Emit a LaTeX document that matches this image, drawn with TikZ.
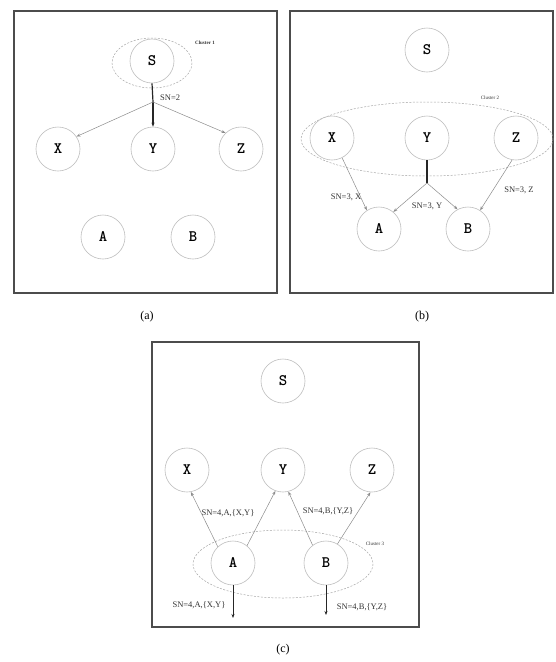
\documentclass[tikz,border=0pt]{standalone}
\usepackage{fontspec}
\setmainfont{Liberation Serif}
\usetikzlibrary{arrows.meta}
\begin{document}
\begin{tikzpicture}[x=1pt,y=-1pt,
  frame/.style={draw=black!70,line width=1.4pt},
  vtx/.style={circle,draw=black!25,line width=0.6pt,minimum size=44pt,inner sep=0pt,font=\fontsize{16}{16}\selectfont\ttfamily\bfseries},
  cluster/.style={draw=black!35,line width=0.5pt,dash pattern=on 2pt off 1.5pt},
  clabel/.style={font=\fontsize{5}{5}\selectfont\bfseries,text=black!80},
  elabel/.style={font=\fontsize{8.5}{9}\selectfont,text=black!80,inner sep=1pt},
  edge/.style={draw=black!45,line width=0.5pt,-{Stealth[length=4pt,width=3pt]}},
  trunk/.style={draw=black!85,line width=1.2pt},
  captxt/.style={font=\fontsize{12}{12}\selectfont}]
\useasboundingbox (0,0) rectangle (555,662);
\fill[white] (0,0) rectangle (555,662);
% ---------- panel (a)
\draw[frame] (14,11) rectangle (277,293);
\node[captxt] (capa) at (147,317) {(a)};
\draw[cluster] (152,63) ellipse [x radius=40,y radius=25];
\node[clabel] (cl1) at (205,43) {Cluster 1};
\node[vtx] (aS) at (152,61) {S};
\node[vtx] (aX) at (58,149) {X};
\node[vtx] (aY) at (153,149) {Y};
\node[vtx] (aZ) at (241,149) {Z};
\node[vtx] (aA) at (103,237) {A};
\node[vtx] (aB) at (193,237) {B};
\coordinate (abr) at (153,102);
\draw[trunk] (aS.south) -- (abr);
\draw[trunk,-{Stealth[length=4pt,width=3pt]}] (abr) -- (aY.north);
\draw[edge] (abr) -- (aX.34);
\draw[edge] (abr) -- (aZ.134);
\node[elabel,anchor=west] (sn2) at (159,98) {SN=2};
% ---------- panel (b)
\draw[frame] (290,11) rectangle (553,293);
\node[captxt] (capb) at (422,317) {(b)};
\draw[cluster] (427,139) ellipse [x radius=126,y radius=37];
\node[clabel,font=\fontsize{5}{5}\selectfont] (cl2) at (490,98) {Cluster 2};
\node[vtx] (bS) at (427,50) {S};
\node[vtx] (bX) at (332,138) {X};
\node[vtx] (bY) at (427,138) {Y};
\node[vtx] (bZ) at (516,138) {Z};
\node[vtx] (bA) at (379,229) {A};
\node[vtx] (bB) at (468,229) {B};
\coordinate (bbr) at (427,183);
\draw[trunk] (bY.south) -- (bbr);
\draw[edge] (bbr) -- (bA.50);
\draw[edge] (bbr) -- (bB.118);
\draw[edge] (bX.-63) -- (bA.123);
\draw[edge] (bZ.-100) -- (bB.57);
\node[elabel] (sn3x) at (346,197) {SN=3, X};
\node[elabel] (sn3y) at (427,206) {SN=3, Y};
\node[elabel] (sn3z) at (519,190) {SN=3, Z};
% ---------- panel (c)
\draw[frame] (152,342) rectangle (419,627);
\node[captxt] (capc) at (283,650) {(c)};
\draw[cluster] (283,564) ellipse [x radius=90,y radius=34];
\node[clabel,font=\fontsize{5}{5}\selectfont] (cl3) at (375,544) {Cluster 3};
\node[vtx] (cS) at (283,381) {S};
\node[vtx] (cX) at (187,470) {X};
\node[vtx] (cY) at (283,470) {Y};
\node[vtx] (cZ) at (372,470) {Z};
\node[vtx] (cA) at (233,563) {A};
\node[vtx] (cB) at (326,563) {B};
\draw[edge] (cA.133) -- (cX.-80);
\draw[edge] (cA.51) -- (cY.250);
\draw[edge] (cB.127) -- (cY.284);
\draw[edge] (cB.59) -- (cZ.266);
\coordinate (cAd) at (233,618);
\coordinate (cBd) at (326,615);
\draw[trunk,line width=0.9pt,-{Stealth[length=4pt,width=3pt]}] (cA.south) -- (cAd);
\draw[trunk,line width=0.9pt,-{Stealth[length=4pt,width=3pt]}] (cB.south) -- (cBd);
\node[elabel] (sn4a) at (228,513) {SN=4,A,\{X,Y\}};
\node[elabel] (sn4b) at (328,511) {SN=4,B,\{Y,Z\}};
\node[elabel] (sn4ad) at (199,605) {SN=4,A,\{X,Y\}};
\node[elabel] (sn4bd) at (362,607) {SN=4,B,\{Y,Z\}};
\end{tikzpicture}
\end{document}
